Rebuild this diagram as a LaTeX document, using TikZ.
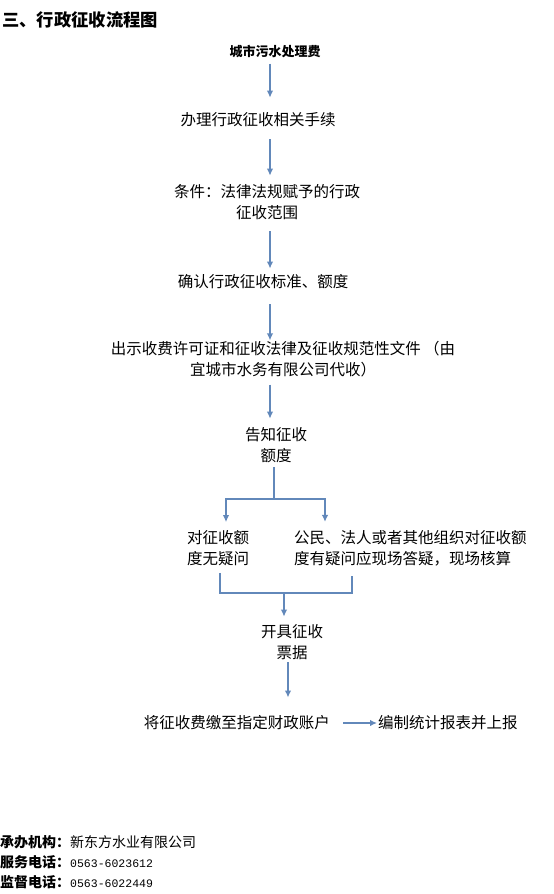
\documentclass[tikz,border=0pt]{standalone}
\usepackage{fontspec}
\setmainfont{Noto Sans CJK SC}
\newfontfamily\telfont{Liberation Mono}
\usetikzlibrary{arrows.meta}
\definecolor{flowblue}{RGB}{98,136,186}
\newcommand{\flowtxt}{\fontsize{15.5}{21}\selectfont}
\newcommand{\foottxt}{\fontsize{14}{16}\selectfont}
\newcommand{\telno}[1]{{\telfont\fontsize{11.5}{16}\selectfont #1}}

\begin{document}
\begin{tikzpicture}[x=1pt,y=-1pt,
	txt/.style={inner sep=0pt,font=\flowtxt,align=center},
	flow/.style={draw=flowblue,line width=1.6pt,-{Latex[length=7pt,width=6.5pt]}},
	link/.style={draw=flowblue,line width=1.6pt}]
\useasboundingbox (0,0) rectangle (554,894);
\node[anchor=west,inner sep=0pt,font=\fontsize{17.3}{20}\selectfont\bfseries] (title) at (2,20) {三、行政征收流程图};
\node[inner sep=0pt,font=\fontsize{13}{15}\selectfont\bfseries] (fee) at (275,52) {城市污水处理费};
	\node[txt] (s1) at (258,120) {办理行政征收相关手续};
	\node[txt] (s2) at (267,202.5) {条件：法律法规赋予的行政\\征收范围};
	\node[txt] (s3) at (263,282) {确认行政征收标准、额度};
	\node[txt] (s4) at (283,359.5) {出示收费许可证和征收法律及征收规范性文件 （由\\宜城市水务有限公司代收）};
	\node[txt] (s5) at (276,445.5) {告知征收\\额度};
	\node[txt,align=left,anchor=west] (s6a) at (187,548) {对征收额\\度无疑问};
	\node[txt,align=left,anchor=west] (s6b) at (294,548) {公民、法人或者其他组织对征收额\\度有疑问应现场答疑，现场核算};
	\node[txt] (s7) at (292,642.5) {开具征收\\票据};
	\node[txt,anchor=east] (s8) at (330,723) {将征收费缴至指定财政账户};
	\node[txt,anchor=west] (s9) at (378,723) {编制统计报表并上报};
\coordinate (ax) at (270,0);
\coordinate (fk) at (274,499);
\coordinate (fl) at (226,0);
\coordinate (fr) at (325,0);
\coordinate (jl) at (220,0);
\coordinate (jr) at (352,0);
\coordinate (jn) at (284,593);
\coordinate (bx) at (288,0);
	\draw[flow,shorten <=5pt,shorten >=15pt] (fee.south -| ax) -- (s1.north -| ax);
	\draw[flow,shorten <=12pt,shorten >=9pt] (s1.south -| ax) -- (s2.north -| ax);
	\draw[flow,shorten <=11pt,shorten >=6pt] (s2.south -| ax) -- (s3.north -| ax);
	\draw[flow,shorten <=15pt,shorten >=1pt] (s3.south -| ax) -- (s4.north -| ax);
	\draw[flow,shorten <=7pt,shorten >=9pt] (s4.south -| ax) -- (s5.north -| ax);
	\draw[link,shorten <=4pt] (s5.south -| fk) -- (fk);
	\draw[flow,shorten >=8pt] (fk) -| (s6a.north -| fl);
	\draw[flow,shorten >=8pt] (fk) -| (s6b.north -| fr);
	\draw[link,shorten <=7pt,shorten >=10pt] (s6a.south -| jl) |- (jn) -| (s6b.south -| jr);
	\draw[flow,shorten >=8pt] (jn) -- (s7.north -| jn);
	\draw[flow,shorten <=2pt,shorten >=18pt] (s7.south -| bx) -- (s8.north -| bx);
	\draw[flow,shorten <=13pt,shorten >=1pt] (s8.east) -- (s9.west);
\node[anchor=west,inner sep=0pt,font=\foottxt] (org) at (0,842) {\textbf{承办机构：}新东方水业有限公司};
\node[anchor=west,inner sep=0pt,font=\foottxt] (tel1) at (0,862) {\textbf{服务电话：}\telno{0563-6023612}};
\node[anchor=west,inner sep=0pt,font=\foottxt] (tel2) at (0,882) {\textbf{监督电话：}\telno{0563-6022449}};
\end{tikzpicture}
\end{document}
